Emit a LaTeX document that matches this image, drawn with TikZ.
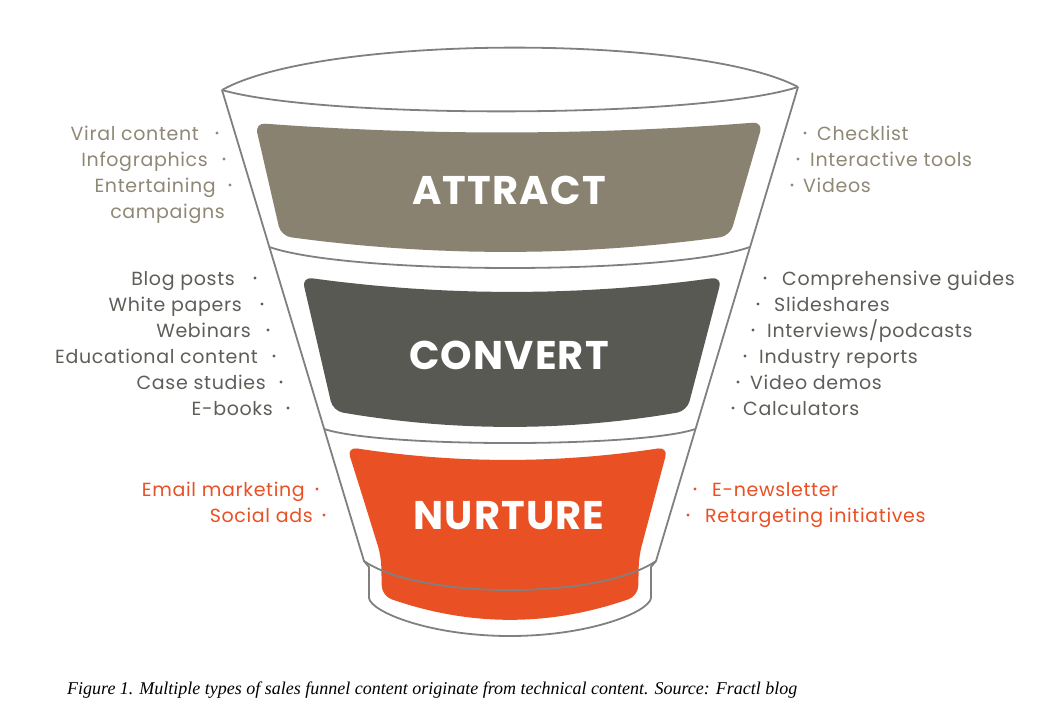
\documentclass[tikz,border=0pt]{standalone}
\usepackage{fontspec}
\usepackage{graphicx}
\newfontfamily\pop{Poppins}[LetterSpace=3.5]
\newfontfamily\poph{Poppins}[LetterSpace=3]
\newfontfamily\capfont{Liberation Serif}
\definecolor{attractc}{HTML}{8A8270}
\definecolor{attracttx}{HTML}{8F8876}
\definecolor{convertc}{HTML}{595954}
\definecolor{converttx}{HTML}{5E5E59}
\definecolor{nurturec}{HTML}{E95024}
\definecolor{linec}{HTML}{808080}
\begin{document}
\begin{tikzpicture}[x=1pt,y=-1pt,
  funline/.style={draw=linec, line width=1.8pt, line join=round},
  band/.style={rounded corners=10pt},
  heading/.style={font=\poph\bfseries\fontsize{40}{42}\selectfont, text=white, inner sep=0pt, anchor=base},
  item/.style={font=\pop\fontsize{19}{21}\selectfont, inner sep=0pt},
  litem/.style={item, anchor=base east},
  ritem/.style={item, anchor=base west},
  dotc/.style={radius=1.6pt}
]
\useasboundingbox (0,0) rectangle (1042,719);
\fill[white] (0,0) rectangle (1042,719);

% bands
\fill[attractc, band] (268,179.5)
  -- plot[domain=0:1,samples=13] ({255+508*\x},{123-1*\x+10*4*\x*(1-\x)})
  -- plot[domain=0:1,samples=13] ({730-449*\x},{236+16*4*\x*(1-\x)})
  -- cycle;
\fill[convertc, band] (317.5,344)
  -- plot[domain=0:1,samples=13] ({302+420*\x},{277+15*4*\x*(1-\x)})
  -- plot[domain=0:1,samples=13] ({687-354*\x},{411+16*4*\x*(1-\x)})
  -- cycle;
\fill[nurturec, band] (364,501)
  -- plot[domain=0:1,samples=13] ({347+321*\x},{447+13*4*\x*(1-\x)})
  -- (639,556)
  -- plot[domain=0:1,samples=13] ({638-256*\x},{596+24*4*\x*(1-\x)})
  -- (381,556)
  -- cycle;

% headings
\node[heading] (attract) at (509,205) {ATTRACT};
\node[heading] (convert) at (509,369.5) {CONVERT};
\node[heading] (nurture) at (509,529) {NURTURE};

% funnel outline
\draw[funline] (222,90) .. controls (322,34) and (698,34) .. (798,87);
\draw[funline] (222,90) .. controls (322,119) and (698,119) .. (798,87);
\draw[funline] (222,90) -- (364,561) -- (369,567) -- (369,598)
  .. controls (371,612) and (430,636) .. (510,636)
  .. controls (590,636) and (649,612) .. (651,598)
  -- (651,567) -- (656,561) -- (798,87);
\draw[funline] (269.3,247) .. controls (350,275) and (670,275) .. (750.1,247);
\draw[funline] (324.2,429) .. controls (380,447.7) and (640,447.7) .. (695.5,429);
\draw[funline] (364,561) .. controls (420,599.7) and (600,599.7) .. (656,561);

% left lists
\begin{scope}[text=attracttx]
\node[litem] (la1) at (199,140.5) {Viral content};
\node[litem] (la2) at (208,166.5) {Infographics};
\node[litem] (la3) at (216,192.5) {Entertaining};
\node[litem] (la4) at (225,218.5) {campaigns};
\node[ritem] (ra1) at (817,140.5) {Checklist};
\node[ritem] (ra2) at (810,166.5) {Interactive tools};
\node[ritem] (ra3) at (803,192.5) {Videos};
\end{scope}
\fill[attracttx] (217,133) circle[dotc] (224,159) circle[dotc] (230,185) circle[dotc]
  (805,133) circle[dotc] (798,159) circle[dotc] (792,185) circle[dotc];

\begin{scope}[text=converttx]
\node[litem] (lc1) at (235,285.5) {Blog posts};
\node[litem] (lc2) at (242,311.5) {White papers};
\node[litem] (lc3) at (251,337.5) {Webinars};
\node[litem] (lc4) at (258,363.5) {Educational content};
\node[litem] (lc5) at (266,389.5) {Case studies};
\node[litem] (lc6) at (273,415.5) {E-books};
\node[ritem] (rc1) at (782,285.5) {Comprehensive guides};
\node[ritem] (rc2) at (774,311.5) {Slideshares};
\node[ritem] (rc3) at (767,337.5) {Interviews/podcasts};
\node[ritem] (rc4) at (759,363.5) {Industry reports};
\node[ritem] (rc5) at (750,389.5) {Video demos};
\node[ritem] (rc6) at (743,415.5) {Calculators};
\end{scope}
\fill[converttx] (255,278) circle[dotc] (262,304) circle[dotc] (268,330) circle[dotc]
  (274,356) circle[dotc] (281,382) circle[dotc] (288,408) circle[dotc]
  (765,278) circle[dotc] (758,304) circle[dotc] (753,330) circle[dotc]
  (745,356) circle[dotc] (738,382) circle[dotc] (733,408) circle[dotc];

\begin{scope}[text=nurturec]
\node[litem] (ln1) at (305,496.5) {Email marketing};
\node[litem] (ln2) at (313,522.5) {Social ads};
\node[ritem] (rn1) at (712,496.5) {E-newsletter};
\node[ritem] (rn2) at (705,522.5) {Retargeting initiatives};
\end{scope}
\fill[nurturec] (317,489) circle[dotc] (324,515) circle[dotc]
  (695,489) circle[dotc] (688,515) circle[dotc];

% caption
\node[inner sep=0pt, anchor=base west] (caption) at (67,694.5)
  {\resizebox{730pt}{\height}{\capfont\fontsize{18}{20}\selectfont\itshape Figure 1. Multiple types of sales funnel content originate from technical content. Source: Fractl blog}};
\end{tikzpicture}
\end{document}
